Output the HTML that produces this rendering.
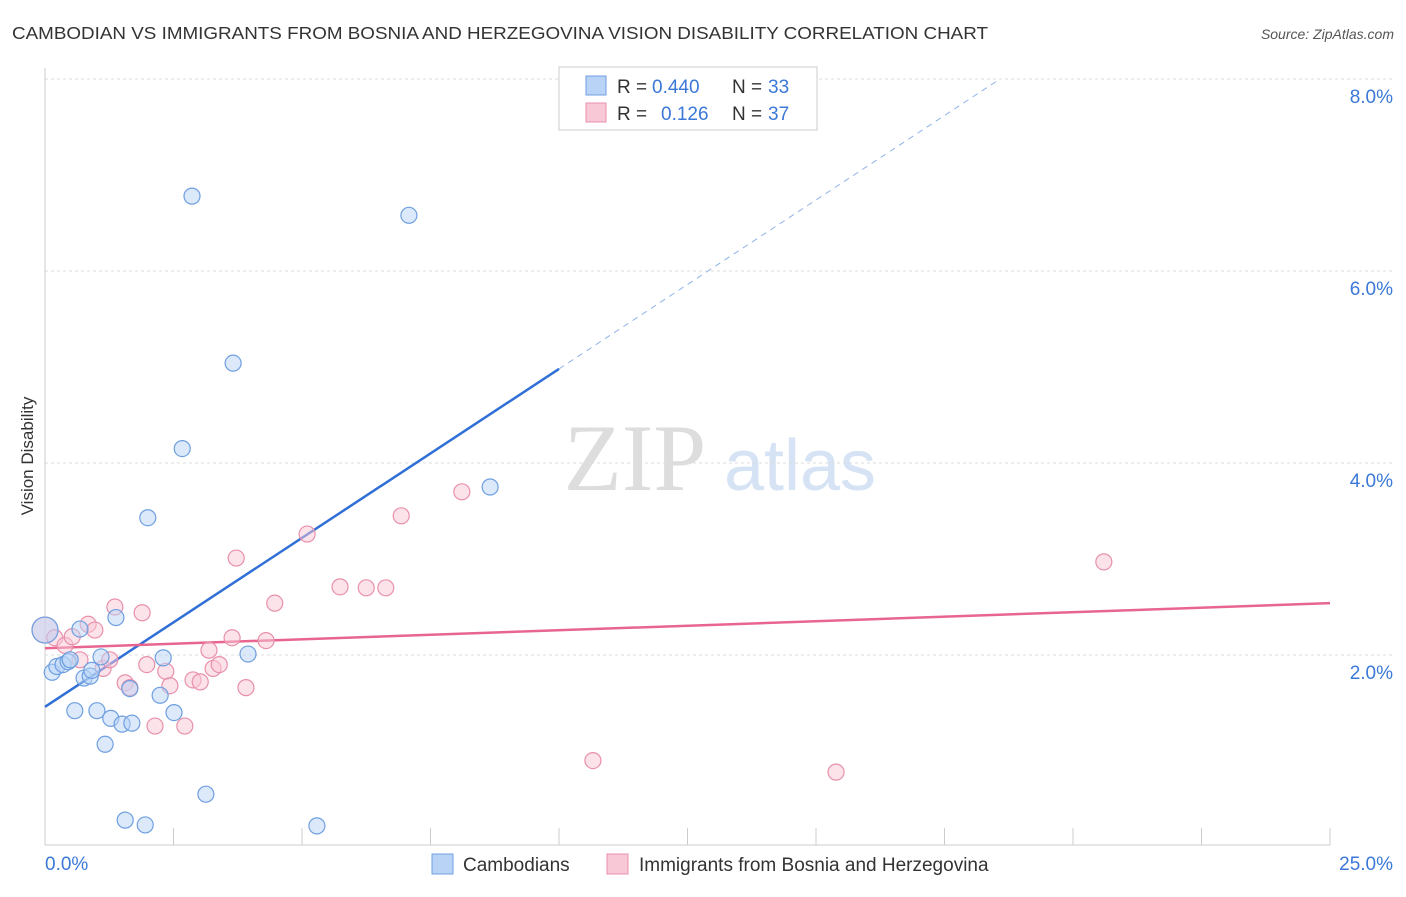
<!DOCTYPE html>
<html><head><meta charset="utf-8"><style>
body{margin:0;background:#fff;font-family:"Liberation Sans",sans-serif}
</style></head><body>
<svg id="c" width="1406" height="892" xmlns="http://www.w3.org/2000/svg">
<text x="12" y="39" font-size="17.5" fill="#333" textLength="976" lengthAdjust="spacingAndGlyphs">CAMBODIAN VS IMMIGRANTS FROM BOSNIA AND HERZEGOVINA VISION DISABILITY CORRELATION CHART</text>
<text x="1394" y="39" font-size="14" fill="#555" font-style="italic" text-anchor="end">Source: ZipAtlas.com</text>
<text transform="translate(33,456) rotate(-90)" font-size="17" fill="#333" text-anchor="middle">Vision Disability</text>
<g><text x="635" y="490" font-size="95" fill="#ddd" font-family="Liberation Serif" text-anchor="middle">ZIP</text><text x="800" y="490" font-size="72" fill="#d5e3f5" text-anchor="middle">atlas</text></g>
<g id="grid"></g><g id="axes"></g><g id="lines"></g><g id="pts"></g>
<g>
<rect x="559" y="67" width="258" height="63" fill="#fff" stroke="#ccc"/>
<rect x="586" y="76" width="20" height="19" fill="#b8d3f5" stroke="#6f9fe0"/>
<text x="617" y="93" font-size="19" fill="#333">R =</text><text x="652" y="93" font-size="19" fill="#3b78d8">0.440</text>
<text x="732" y="93" font-size="19" fill="#333">N =</text><text x="768" y="93" font-size="19" fill="#3b78d8">33</text>
<rect x="586" y="103" width="20" height="19" fill="#f9c8d6" stroke="#e890aa"/>
<text x="617" y="120" font-size="19" fill="#333">R =</text><text x="661" y="120" font-size="19" fill="#3b78d8">0.126</text>
<text x="732" y="120" font-size="19" fill="#333">N =</text><text x="768" y="120" font-size="19" fill="#3b78d8">37</text>
</g>
<g>
<rect x="432" y="854" width="21" height="20" fill="#b8d3f5" stroke="#6f9fe0"/>
<text x="463" y="871" font-size="19" fill="#333">Cambodians</text>
<rect x="607" y="854" width="21" height="20" fill="#f9c8d6" stroke="#e890aa"/>
<text x="639" y="871" font-size="19" fill="#333">Immigrants from Bosnia and Herzegovina</text>
</g>
</svg>
<script>
const yTicks=[2,4,6,8];
const xTickLabels=["0.0%","25.0%"];
const blueX=[2.86,7.08,3.66,2.67,2.00,8.66,1.38,0.68,0.14,0.23,0.35,0.45,0.49,0.76,0.88,0.91,1.09,2.30,3.95,0.58,1.01,1.28,1.50,1.69,2.24,2.51,1.17,1.65,3.13,1.56,1.95,5.29,0.0];
const blueY=[6.78,6.58,5.04,4.15,3.43,3.75,2.39,2.27,1.82,1.88,1.90,1.93,1.95,1.76,1.78,1.84,1.98,1.97,2.01,1.42,1.42,1.34,1.28,1.29,1.58,1.40,1.07,1.65,0.55,0.28,0.23,0.22,2.26];
const pinkX=[0,0.19,0.39,0.53,0.84,0.97,1.36,1.89,0.68,1.13,1.26,1.56,1.65,1.98,2.35,2.43,2.88,3.02,3.19,3.27,3.39,3.64,3.72,4.30,3.91,4.47,5.10,5.74,6.25,6.63,6.93,8.11,2.14,2.72,10.66,15.39,20.60];
const pinkY=[2.26,2.18,2.10,2.19,2.32,2.26,2.50,2.44,1.95,1.86,1.95,1.71,1.66,1.90,1.83,1.68,1.74,1.72,2.05,1.86,1.90,2.18,3.01,2.15,1.66,2.54,3.26,2.71,2.70,2.70,3.45,3.70,1.26,1.26,0.90,0.78,2.97];
const blueTrend=[1.46,0.352];
const pinkTrend=[2.07,0.0188];
const NS="http://www.w3.org/2000/svg";
const X=v=>45+v*51.4, Y=v=>847-v*96;
function mk(p,t,a){const e=document.createElementNS(NS,t);for(const k in a)e.setAttribute(k,a[k]);document.getElementById(p).appendChild(e);return e;}
yTicks.forEach(t=>{
 const l=mk('grid','line',{x1:45,x2:1393,y1:Y(t),y2:Y(t),stroke:'#ddd','stroke-dasharray':'3,3'});
 
 
 const tx=mk('grid','text',{x:1393,y:Y(t)+24,'font-size':19,fill:'#3b78d8','text-anchor':'end'});
 tx.textContent=t.toFixed(1)+'%';
 
 
});
mk('axes','line',{x1:45,x2:45,y1:68,y2:845,stroke:'#ccc'});
mk('axes','line',{x1:45,x2:1330,y1:845,y2:845,stroke:'#ccc'});
for(let i=0;i<=10;i++){const x=X(i*2.5);const t=mk('axes','line',{x1:x,x2:x,y1:828,y2:845,stroke:'#ccc'});
 
 }
let a=mk('axes','text',{x:45,y:870,'font-size':19,fill:'#3b78d8'});a.textContent=xTickLabels[0];

a=mk('axes','text',{x:1393,y:870,'font-size':19,fill:'#3b78d8','text-anchor':'end'});a.textContent=xTickLabels[1];

function pts(xs,ys,fill,stroke,name){xs.forEach((x,i)=>{const big=(x===0);
 const c=mk('pts','circle',{cx:X(x),cy:Y(ys[i]),r:big?13:8,fill:fill,'fill-opacity':0.5,stroke:stroke,'stroke-width':1.2});
 
 });}
pts(pinkX,pinkY,'#f9c8d6','#e890aa','bosnia-point');
pts(blueX,blueY,'#b8d3f5','#6f9fe0','cambodian-point');
let l=mk('lines','line',{x1:X(0),y1:Y(blueTrend[0]),x2:X(10),y2:Y(blueTrend[0]+blueTrend[1]*10),stroke:'#2f6fd6','stroke-width':2.5});

l=mk('lines','line',{x1:X(10),y1:Y(blueTrend[0]+blueTrend[1]*10),x2:X(18.58),y2:Y(blueTrend[0]+blueTrend[1]*18.58),stroke:'#8fb3e8','stroke-width':1,'stroke-dasharray':'6,5'});

l=mk('lines','line',{x1:X(0),y1:Y(pinkTrend[0]),x2:X(25),y2:Y(pinkTrend[0]+pinkTrend[1]*25),stroke:'#e8658f','stroke-width':2.5});

</script>
</body></html>
